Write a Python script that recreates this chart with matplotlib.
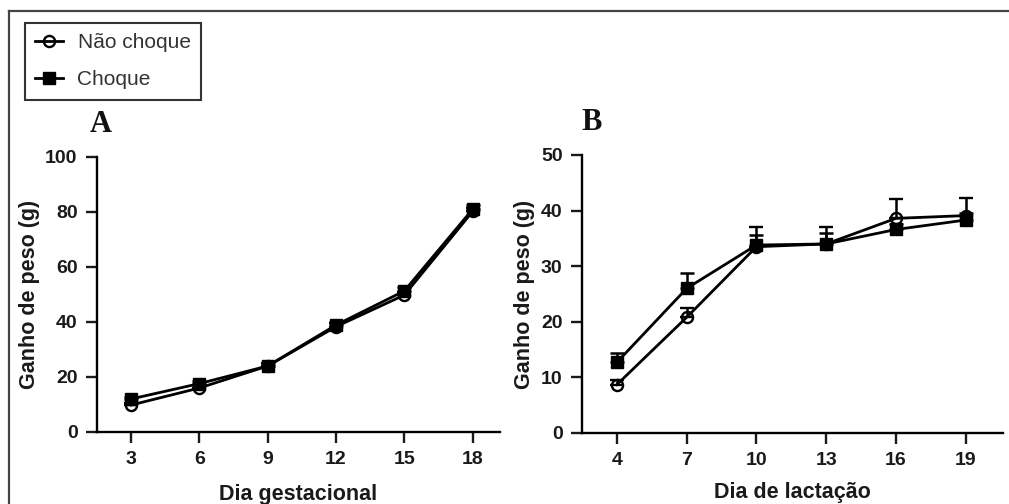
import matplotlib.pyplot as plt
from matplotlib.lines import Line2D
import numpy as np

plt.rcParams['font.family'] = ['Liberation Sans', 'DejaVu Sans']

# A: gestational weight gain
dias_gest = [3, 6, 9, 12, 15, 18]
gest_nao = [9.8, 16.0, 24.0, 38.3, 49.8, 80.2]
gest_nao_err = [0.8, 1.0, 1.0, 1.2, 1.2, 1.3]
gest_choque = [12.0, 17.6, 24.0, 38.9, 51.3, 81.0]
gest_choque_err = [0.8, 1.0, 1.0, 1.2, 1.3, 1.5]

# B: lactation weight gain
dias_lact = [4, 7, 10, 13, 16, 19]
lact_nao = [8.7, 20.8, 33.5, 34.0, 38.6, 39.1]
lact_nao_err = [0.8, 1.7, 3.6, 3.0, 3.4, 3.2]
lact_choque = [12.7, 26.0, 33.8, 34.0, 36.6, 38.3]
lact_choque_err = [1.7, 2.8, 1.8, 2.0, 1.0, 1.2]

fig = plt.figure(figsize=(10.09, 5.04), dpi=100)
axA = fig.add_axes([0.0961, 0.1429, 0.3994, 0.5456])
axB = fig.add_axes([0.5768, 0.1409, 0.4172, 0.5516])


def draw(ax, x, nao, nao_err, ch, ch_err):
    ax.errorbar(x, ch, yerr=[np.zeros(len(ch)), ch_err], fmt='-s', color='black',
                ms=8.5, lw=2.0, elinewidth=1.8, capsize=5, capthick=1.8,
                clip_on=False, zorder=3)
    ax.errorbar(x, nao, yerr=[np.zeros(len(nao)), nao_err], fmt='-o', color='black',
                mfc='none', mew=1.7, ms=8, lw=2.0, elinewidth=1.8, capsize=5,
                capthick=1.8, clip_on=False, zorder=4)
    for s in ['top', 'right']:
        ax.spines[s].set_visible(False)
    for s in ['left', 'bottom']:
        ax.spines[s].set_linewidth(1.7)
    ax.tick_params(width=1.7, length=8, labelsize=14, colors='#1a1a1a', pad=6)
    ax.set_ylabel('Ganho de peso (g)', fontsize=15.5, fontweight='bold', color='#1a1a1a')


draw(axA, dias_gest, gest_nao, gest_nao_err, gest_choque, gest_choque_err)
axA.set_xlim(1.5, 19.2)
axA.set_ylim(0, 100)
axA.set_xticks(dias_gest)
axA.set_yticks([0, 20, 40, 60, 80, 100])
axA.set_xlabel('Dia gestacional', fontsize=15.5, fontweight='bold', color='#1a1a1a',
               labelpad=11.5)
for lab in axA.get_xticklabels() + axA.get_yticklabels():
    lab.set_fontweight('bold')

draw(axB, dias_lact, lact_nao, lact_nao_err, lact_choque, lact_choque_err)
axB.set_xlim(2.5, 20.6)
axB.set_ylim(0, 50)
axB.set_xticks(dias_lact)
axB.set_yticks([0, 10, 20, 30, 40, 50])
axB.set_xlabel('Dia de lactação', fontsize=15.5, fontweight='bold', color='#1a1a1a',
               labelpad=9)
for lab in axB.get_xticklabels() + axB.get_yticklabels():
    lab.set_fontweight('bold')

# panel letters
fig.text(101 / 1009, 1 - 124 / 504, 'A', fontsize=22, fontweight='bold',
         family='Liberation Serif', ha='center', va='center', color='#111111')
fig.text(592 / 1009, 1 - 122 / 504, 'B', fontsize=22, fontweight='bold',
         family='Liberation Serif', ha='center', va='center', color='#111111')

# legend
handles = [Line2D([], [], color='black', marker='o', mfc='none', mew=1.7, ms=8, lw=2.0),
           Line2D([], [], color='black', marker='s', ms=8, lw=2.0)]
leg = fig.legend(handles, ['Não choque', 'Choque'], loc='upper left',
                 bbox_to_anchor=(25 / 1009, 1 - 23 / 504), fontsize=15,
                 frameon=True, fancybox=False, edgecolor='black',
                 handlelength=1.3, handletextpad=0.72, labelspacing=0.85,
                 borderpad=0.5, borderaxespad=0)
leg.get_frame().set_linewidth(1.5)
for t in leg.get_texts():
    t.set_color('#333333')

# outer frame
fig.add_artist(Line2D([9 / 1009, 9 / 1009], [0, 1 - 11 / 504], color='#444444', lw=1.6))
fig.add_artist(Line2D([9 / 1009, 1], [1 - 11 / 504, 1 - 11 / 504], color='#444444', lw=1.6))

fig.savefig('out.png', dpi=100)
